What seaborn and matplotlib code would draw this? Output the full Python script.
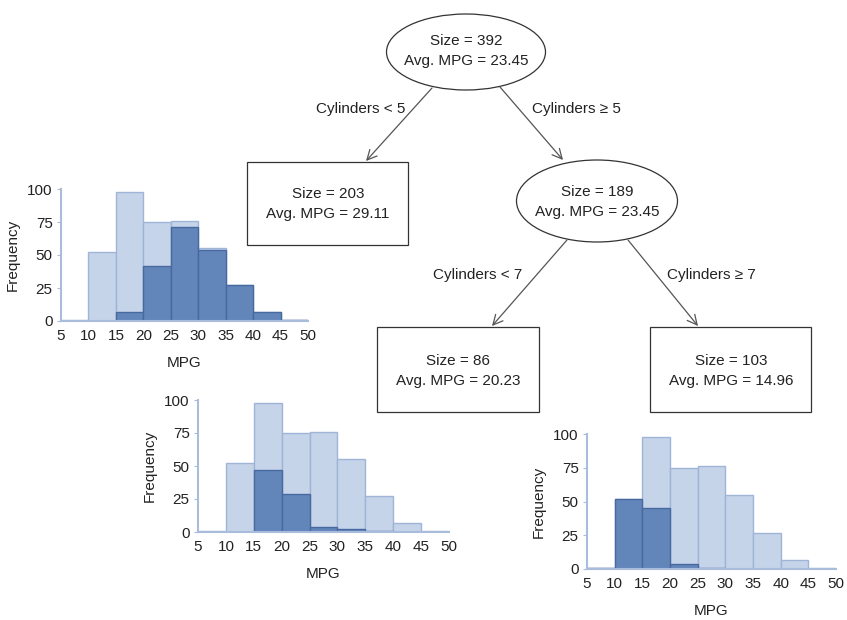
import matplotlib
matplotlib.use("Agg")
import matplotlib.pyplot as plt
from matplotlib.patches import Ellipse, Rectangle
import numpy as np
import seaborn as sns

# histogram data (MPG bins 5..50, width 5)
bin_edges = [5, 10, 15, 20, 25, 30, 35, 40, 45, 50]
all_counts = [1, 52, 98, 75, 76, 55, 27, 7, 1]
cyl_lt5 = [0, 0, 7, 42, 71, 54, 27, 7, 1]
cyl_5to6 = [0, 0, 47, 29, 4, 2, 1, 0, 0]
cyl_ge7 = [1, 52, 45, 4, 1, 0, 0, 0, 0]
x_ticks = [5, 10, 15, 20, 25, 30, 35, 40, 45, 50]
y_ticks = [0, 25, 50, 75, 100]

# tree nodes
node_sizes = [392, 203, 189, 86, 103]
node_mpg = ["23.45", "29.11", "23.45", "20.23", "14.96"]
split_labels = ["Cylinders < 5", "Cylinders \u2265 5", "Cylinders < 7", "Cylinders \u2265 7"]

sns.set_style("white")
plt.rcParams["font.family"] = ["Liberation Sans", "DejaVu Sans"]
FS = 11
LIGHT, LIGHT_EDGE = "#c6d4e9", "#9fb5d8"
DARK, DARK_EDGE = "#6285ba", "#48699f"
SPINE = "#a9bcdc"

W, H = 847, 620
fig = plt.figure(figsize=(W / 100, H / 100), dpi=100)

centers = [(a + b) / 2 for a, b in zip(bin_edges[:-1], bin_edges[1:])]


def hist_panel(x0, x1, y0, y100, subset):
    ax = fig.add_axes([x0 / W, (H - y0) / H, (x1 - x0) / W, (y0 - y100) / H])
    sns.histplot(x=centers, weights=all_counts, bins=bin_edges, ax=ax,
                 color=LIGHT, edgecolor=LIGHT_EDGE, alpha=1, linewidth=1)
    sns.histplot(x=centers, weights=subset, bins=bin_edges, ax=ax,
                 color=DARK, edgecolor=DARK_EDGE, alpha=1, linewidth=1)
    ax.set_xlim(5, 50)
    ax.set_ylim(0, 100)
    ax.set_xticks(x_ticks)
    ax.set_yticks(y_ticks)
    ax.set_facecolor("none")
    for s in ["top", "right"]:
        ax.spines[s].set_visible(False)
    for s in ["left", "bottom"]:
        ax.spines[s].set_color(SPINE)
        ax.spines[s].set_linewidth(1.5)
    ax.tick_params(axis="x", length=0, pad=6, labelsize=FS, colors="#222222")
    ax.tick_params(axis="y", length=3, color=SPINE, pad=3, labelsize=FS,
                   left=True)
    ax.tick_params(axis="y", labelcolor="#222222")
    ax.set_xlabel("MPG", fontsize=FS, labelpad=9, color="#222222")
    ax.set_ylabel("Frequency", fontsize=FS, labelpad=5, color="#222222")
    return ax


hist_panel(61, 308, 321, 189, cyl_lt5)
hist_panel(198, 449, 532, 400, cyl_5to6)
hist_panel(587, 836, 569, 434, cyl_ge7)

# tree drawn in pixel coordinates on top
tx = fig.add_axes([0, 0, 1, 1])
tx.set_xlim(0, W)
tx.set_ylim(H, 0)
tx.axis("off")
tx.set_facecolor("none")

LC = "#333333"
tx.add_patch(Ellipse((466, 52), 159, 76, fill=False, ec=LC, lw=0.9))
tx.add_patch(Ellipse((597, 201), 161, 82, fill=False, ec=LC, lw=0.9))
tx.add_patch(Rectangle((247, 162), 161, 83, fill=False, ec=LC, lw=0.9))
tx.add_patch(Rectangle((377, 327), 162, 85, fill=False, ec=LC, lw=0.9))
tx.add_patch(Rectangle((650, 327), 161, 85, fill=False, ec=LC, lw=0.9))

node_xy = [(466, 51), (328, 204), (597, 202), (458, 371), (731, 371)]
for (cx, cy), n, m in zip(node_xy, node_sizes, node_mpg):
    tx.text(cx, cy, f"Size = {n}\nAvg. MPG = {m}", ha="center", va="center",
            fontsize=FS, color="#222222", linespacing=1.5)

arrows = [((432, 88), (366, 161)), ((500, 87), (563, 160)),
          ((567, 240), (492, 326)), ((628, 240), (698, 326))]
for (p0, p1) in arrows:
    tx.annotate("", xy=p1, xytext=p0,
                arrowprops=dict(arrowstyle="->,head_length=0.7,head_width=0.35",
                                color="#555555", lw=0.9, shrinkA=0, shrinkB=0))

label_pos = [(405, 109, "right"), (532, 109, "left"),
             (522, 275, "right"), (667, 275, "left")]
for (lx, ly, ha), lab in zip(label_pos, split_labels):
    tx.text(lx, ly, lab, ha=ha, va="center", fontsize=FS, color="#222222")

fig.savefig("out.png", dpi=100)
